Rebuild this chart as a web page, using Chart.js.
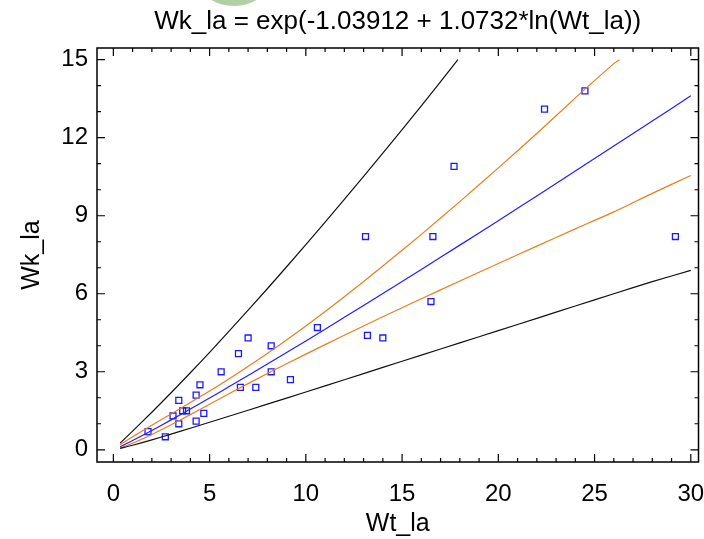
<!DOCTYPE html>
<html>
<head>
<meta charset="utf-8">
<script src="https://cdn.jsdelivr.net/npm/chart.js@4.4.0/dist/chart.umd.min.js"></script>
<style>
  html, body { margin: 0; padding: 0; background: #fff; }
  #wrap { width: 704px; height: 539px; position: relative; }
</style>
</head>
<body>
<div id="wrap"><canvas id="myChart" width="704" height="539"></canvas></div>
<script>
// observed points (Wt_la, Wk_la)
const obsX = [1.8, 2.7, 3.1, 3.4, 3.4, 3.6, 3.8, 4.3, 4.3, 4.5, 4.7, 5.6, 6.5, 6.6, 7.0, 7.4, 8.2, 8.2, 9.2, 10.6, 13.1, 13.2, 14.0, 16.5, 16.6, 17.7, 22.4, 24.5, 29.2];
const obsY = [0.7, 0.5, 1.3, 1.0, 1.9, 1.5, 1.5, 1.1, 2.1, 2.5, 1.4, 3.0, 3.7, 2.4, 4.3, 2.4, 4.0, 3.0, 2.7, 4.7, 8.2, 4.4, 4.3, 5.7, 8.2, 10.9, 13.1, 13.8, 8.2];

// fitted line and limits
const curveX  = [0.35, 1, 2, 3, 4, 5, 6, 8, 10, 12, 14, 16, 18, 20, 22, 24, 26, 28, 30];
const fitY    = [0.115, 0.354, 0.744, 1.150, 1.566, 1.990, 2.421, 3.296, 4.186, 5.092, 6.011, 6.935, 7.870, 8.810, 9.758, 10.72, 11.68, 12.64, 13.61];
const confLoY = [0.069, 0.252, 0.587, 0.959, 1.351, 1.751, 2.151, 2.932, 3.679, 4.405, 5.114, 5.806, 6.490, 7.163, 7.830, 8.495, 9.150, 9.860, 10.55];
const predLoY = [0.052, 0.174, 0.383, 0.603, 0.828, 1.057, 1.288, 1.754, 2.222, 2.694, 3.167, 3.638, 4.111, 4.582, 5.054, 5.528, 5.999, 6.466, 6.900];
const confUpX = [0.35, 1, 2, 3, 4, 5, 6, 8, 10, 12, 14, 16, 18, 20, 22, 24, 26, 26.3];
const confUpY = [0.191, 0.498, 0.943, 1.379, 1.815, 2.262, 2.724, 3.706, 4.762, 5.886, 7.065, 8.284, 9.544, 10.84, 12.16, 13.53, 14.85, 15];
const predUpX = [0.35, 1, 2, 3, 4, 5, 6, 8, 10, 12, 14, 16, 17.9];
const predUpY = [0.256, 0.718, 1.445, 2.194, 2.962, 3.748, 4.551, 6.193, 7.886, 9.625, 11.41, 13.22, 15];

const xTickValues = [0, 5, 10, 15, 20, 25, 30];
const yTickValues = [0, 3, 6, 9, 12, 15];

function pts(xs, ys) {
  return xs.map((x, i) => ({ x: x, y: ys[i] }));
}

const FONT = "'Liberation Sans', Arial, sans-serif";

// frame with inward ticks on all four sides
const framePlugin = {
  id: 'frame',
  afterDraw(chart) {
    const ctx = chart.ctx;
    const a = chart.chartArea;
    const xs = chart.scales.x, ys = chart.scales.y;
    ctx.save();
    ctx.strokeStyle = '#000';
    ctx.lineWidth = 1.5;
    ctx.strokeRect(a.left, a.top, a.right - a.left, a.bottom - a.top);
    ctx.lineWidth = 1.2;
    ctx.beginPath();
    for (let v = 0; v <= 30; v++) {
      const px = xs.getPixelForValue(v);
      const len = v % 5 === 0 ? 8 : 4;
      ctx.moveTo(px, a.bottom); ctx.lineTo(px, a.bottom - len);
      ctx.moveTo(px, a.top); ctx.lineTo(px, a.top + len);
    }
    for (let v = 0; v <= 15; v++) {
      const py = ys.getPixelForValue(v);
      const len = v % 3 === 0 ? 8 : 4;
      ctx.moveTo(a.left, py); ctx.lineTo(a.left + len, py);
      ctx.moveTo(a.right, py); ctx.lineTo(a.right - len, py);
    }
    ctx.stroke();
    ctx.restore();
  },
  beforeDraw(chart) {
    // faint green logo edge peeking at the top
    const ctx = chart.ctx;
    ctx.save();
    ctx.fillStyle = '#b3cfa6';
    ctx.beginPath();
    ctx.ellipse(234, -18, 34, 24, 0, 0, Math.PI * 2);
    ctx.fill();
    ctx.restore();
  }
};

const lineDs = (label, data, color) => ({
  type: 'line', label: label, data: data,
  borderColor: color, borderWidth: 1.2,
  pointRadius: 0, fill: false, tension: 0.2
});

new Chart(document.getElementById('myChart'), {
  type: 'scatter',
  data: {
    datasets: [
      lineDs('pred upper', pts(predUpX, predUpY), '#111111'),
      lineDs('pred lower', pts(curveX, predLoY), '#111111'),
      lineDs('conf upper', pts(confUpX, confUpY), '#ea7d1c'),
      lineDs('conf lower', pts(curveX, confLoY), '#ea7d1c'),
      lineDs('fit', pts(curveX, fitY), '#1f1fff'),
      {
        label: 'Wk_la',
        data: pts(obsX, obsY),
        pointStyle: 'rect',
        pointRadius: 4.2,
        borderWidth: 1.3,
        borderColor: '#1a1aff',
        backgroundColor: 'rgba(0,0,0,0)'
      }
    ]
  },
  options: {
    responsive: false,
    animation: false,
    layout: { padding: { left: 0, right: 1, top: 0, bottom: 0 } },
    plugins: {
      legend: { display: false },
      tooltip: { enabled: false },
      title: {
        display: true,
        fullSize: false,
        text: 'Wk_la = exp(-1.03912 + 1.0732*ln(Wt_la))',
        color: '#000',
        font: { family: FONT, size: 26, weight: 'normal', lineHeight: 1.2 },
        padding: { top: 6, bottom: 10.8 }
      }
    },
    scales: {
      x: {
        type: 'linear',
        min: -0.85,
        max: 30.4,
        afterBuildTicks: s => { s.ticks = xTickValues.map(v => ({ value: v })); },
        afterFit: s => { s.height = 77; s.paddingLeft = 0; s.paddingRight = 0; },
        grid: { display: false, drawTicks: false },
        border: { display: false },
        ticks: { color: '#000', padding: 18, maxRotation: 0, font: { family: FONT, size: 24 } },
        title: {
          display: true, text: 'Wt_la', color: '#000',
          font: { family: FONT, size: 25, lineHeight: 1.2 },
          padding: { top: 0, bottom: 0 }
        }
      },
      y: {
        type: 'linear',
        min: -0.47,
        max: 15.45,
        afterBuildTicks: s => { s.ticks = yTickValues.map(v => ({ value: v })); },
        afterFit: s => { s.width = 97; s.paddingTop = 0; s.paddingBottom = 0; },
        grid: { display: false, drawTicks: false },
        border: { display: false },
        ticks: { color: '#000', padding: 9, font: { family: FONT, size: 24 } },
        title: {
          display: true, text: 'Wk_la', color: '#000',
          font: { family: FONT, size: 25, lineHeight: 1.2 },
          padding: { top: 17, bottom: 0 }
        }
      }
    }
  },
  plugins: [framePlugin]
});
</script>
</body>
</html>
